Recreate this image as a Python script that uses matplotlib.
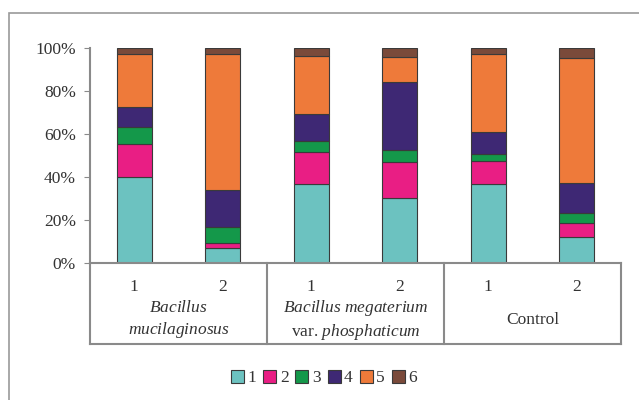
import numpy as np
import matplotlib.pyplot as plt
from matplotlib.patches import Rectangle

plt.rcParams['font.family'] = ['Liberation Serif', 'DejaVu Serif']
plt.rcParams['mathtext.fontset'] = 'custom'
plt.rcParams['mathtext.rm'] = 'Liberation Serif'
plt.rcParams['mathtext.it'] = 'Liberation Serif:italic'

# data (percent of each fraction)
bar_labels = ['1', '2', '1', '2', '1', '2']
series_names = ['1', '2', '3', '4', '5', '6']
s1 = [40.3, 7.0, 36.7, 30.5, 36.7, 12.4]
s2 = [15.0, 2.3, 15.2, 16.5, 10.9, 6.2]
s3 = [8.3, 7.4, 5.0, 5.7, 3.3, 4.7]
s4 = [9.3, 17.4, 12.6, 31.8, 10.3, 13.9]
s5 = [24.5, 63.3, 26.9, 11.3, 36.2, 58.5]
s6 = [2.6, 2.6, 3.6, 4.2, 2.6, 4.3]
groups = [r'$\it{Bacillus}$' + '\n' + r'$\it{mucilaginosus}$',
          r'$\it{Bacillus\ megaterium}$' + '\n' + r'var. $\it{phosphaticum}$',
          'Control']

colors = ['#6CC2C0', '#E91E84', '#14984A', '#3E2874', '#EE7A3A', '#7A4A3A']
edge = '#3a3a3a'
gray = '#8a8a8a'
txt = '#333333'
fs = 12.5

fig = plt.figure(figsize=(6.39, 4.0), dpi=100)
# outer chart frame (cropped at right and bottom)
fig.add_artist(Rectangle((9 / 639, -0.1), 1.2, (400 - 13) / 400 + 0.1,
                         transform=fig.transFigure, fill=False,
                         edgecolor='#9a9a9a', lw=1.2))

ax = fig.add_axes([90 / 639, (400 - 263.3) / 400, (621 - 90) / 639, (263.3 - 48.3) / 400])
x = np.arange(len(s1))
bottom = np.zeros(len(s1))
handles = []
for vals, c, nm in zip([s1, s2, s3, s4, s5, s6], colors, series_names):
    h = ax.bar(x, vals, 0.4, bottom=bottom, color=c, edgecolor=edge, linewidth=0.8, label=nm)
    handles.append(h)
    bottom += np.array(vals)

ax.set_xlim(-0.5, 5.5)
ax.set_ylim(0, 100)
ax.set_yticks([0, 20, 40, 60, 80, 100])
ax.set_yticklabels(['0%', '20%', '40%', '60%', '80%', '100%'], fontsize=fs, color=txt)
ax.set_xticks([])
for s in ['top', 'right']:
    ax.spines[s].set_visible(False)
ax.spines['left'].set_color(gray)
ax.spines['left'].set_linewidth(1.5)
ax.spines['bottom'].set_color(gray)
ax.spines['bottom'].set_linewidth(1.5)
ax.tick_params(axis='y', direction='out', length=4, color=gray, pad=6)

# category table under the axis
tr = ax.get_xaxis_transform()
y_low = -(344 - 263.3) / 215.0
for xv in [-0.5, 1.5, 3.5, 5.5]:
    ax.plot([xv, xv], [0, y_low], transform=tr, color=gray, lw=1.5, clip_on=False)
ax.plot([-0.5, 5.5], [y_low, y_low], transform=tr, color=gray, lw=1.5, clip_on=False)
for xi, lab in zip(x, bar_labels):
    ax.text(xi, -(287 - 263.3) / 215.0, lab, transform=tr, ha='center', va='center',
            fontsize=fs, color=txt)
for gi, g in enumerate(groups):
    ax.text(2 * gi + 0.5, -(320 - 263.3) / 215.0, g, transform=tr, ha='center', va='center',
            fontsize=fs, color=txt, linespacing=1.25)

fig.legend(handles=handles, loc='center', bbox_to_anchor=(324 / 639, (400 - 378) / 400),
           ncol=6, frameon=False, fontsize=fs, handlelength=0.75, handleheight=0.75,
           handletextpad=0.2, columnspacing=0.4, labelcolor=txt)

fig.savefig('out.png', dpi=100)
